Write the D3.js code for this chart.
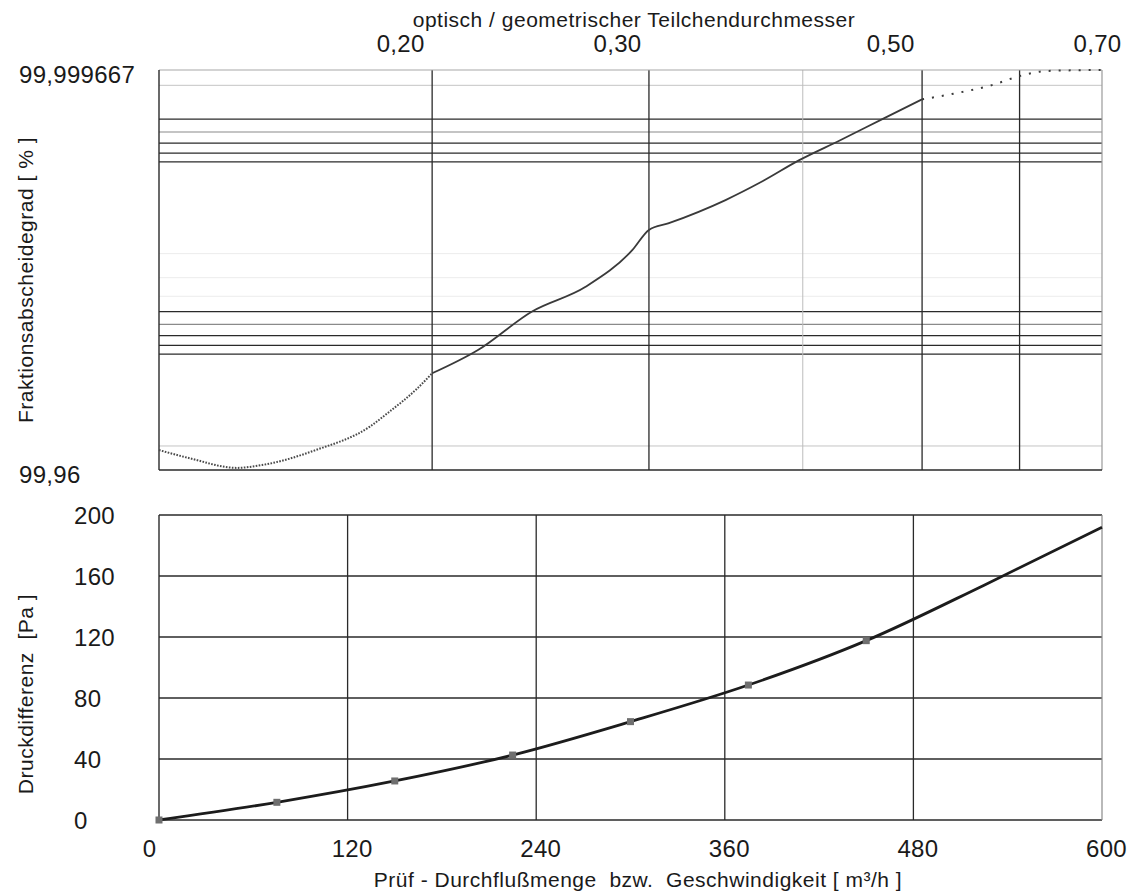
<!DOCTYPE html>
<html><head><meta charset="utf-8">
<script src="https://cdn.jsdelivr.net/npm/d3@7"></script>
<style>
html,body{margin:0;padding:0;background:#fff;}
svg{display:block;}
text{font-family:"Liberation Sans",Arial,Helvetica,sans-serif;fill:#1a1a1a;white-space:pre;}
</style></head>
<body>
<svg id="chart" width="1127" height="893"></svg>
<script>
// ---- data ----
// upper chart: fractional efficiency vs particle diameter (log axes)
const diameter = [0.12, 0.1272, 0.1388, 0.1455, 0.1609, 0.1780, 0.1841, 0.1943, 0.20, 0.2179, 0.2409, 0.2665, 0.2909, 0.30, 0.3110, 0.3462, 0.3703, 0.3974, 0.4294, 0.4655, 0.50, 0.5325, 0.5697, 0.60, 0.6300, 0.70];
const efficiency = [99.9685, 99.9652, 99.9610, 99.9623, 99.9685, 99.9762, 99.9798, 99.98483, 99.98743, 99.99049, 99.99399, 99.99554, 99.99713, 99.99774, 99.99791, 99.99842, 99.99873, 99.99902, 99.99923, 99.999406, 99.999527, 99.99956, 99.999601, 99.999642, 99.999663, 99.999667];
const solidRange = [0.20, 0.50];           // measured (solid) part of the curve
const diamTicks = [0.20, 0.30, 0.50, 0.70];
const diamTickLabels = ["0,20", "0,30", "0,50", "0,70"];
const diamGridDark = [0.20, 0.30, 0.50, 0.60];
const diamGridLight = [0.40];
const effDomain = [99.96, 99.999667];
const effTickLabels = ["99,96", "99,999667"];
const effGridDark = [99.99, 99.991, 99.992, 99.994, 99.999, 99.9991, 99.9992, 99.9994];
const effGridMid = [99.993, 99.9993];
const effGridLight = [99.97, 99.9996];
const effGridFaint = [99.995, 99.996, 99.997];

// lower chart: pressure drop vs flow
const flow = [0, 75, 150, 225, 300, 375, 450, 525, 600];
const pressure = [0, 11.6, 25.6, 42.6, 64.5, 88.5, 117.6, 154, 192];
const measuredCount = 7;
const flowTicks = [0, 120, 240, 360, 480, 600];
const pressureTicks = [0, 40, 80, 120, 160, 200];

const topTitle = "optisch / geometrischer Teilchendurchmesser";
const topYTitle = "Fraktionsabscheidegrad [ % ]";
const botYTitle = "Druckdifferenz  [Pa ]";
const botXTitle = "Prüf - Durchflußmenge  bzw.  Geschwindigkeit [ m³/h ]";

// ---- layout ----
const W = 1127;
const L = 159, R = 1102;
const T1 = 70, B1 = 470;
const T2 = 515, B2 = 820;
const dark = "#2a2a2a";
const tickFont = 24, tickLS = 0.3;
const titleFont = 21, titleLS = 0.5;

const svg = d3.select("#chart");
svg.append("rect").attr("width", W).attr("height", 893).attr("fill", "#fff");

// ---- upper chart ----
const xD = d3.scaleLog().domain([0.12, 0.70]).range([L, R]);
const pen = d3.scaleLog().domain([100 - effDomain[0], 100 - effDomain[1]]).range([B1, T1]);
const yE = v => pen(100 - v);

const g1 = svg.append("g");
function hline(g, y, x0, x1, color, w) {
  g.append("line").attr("x1", x0).attr("x2", x1).attr("y1", y).attr("y2", y)
    .attr("stroke", color).attr("stroke-width", w);
}
function vline(g, x, y0, y1, color, w) {
  g.append("line").attr("x1", x).attr("x2", x).attr("y1", y0).attr("y2", y1)
    .attr("stroke", color).attr("stroke-width", w);
}
effGridFaint.forEach(v => hline(g1, yE(v), L, R, "#ececec", 1));
effGridLight.forEach(v => hline(g1, yE(v), L, R, "#c4c4c4", 1));
effGridMid.forEach(v => hline(g1, yE(v), L, R, "#8a8a8a", 1.1));
effGridDark.forEach(v => hline(g1, yE(v), L, R, dark, 1.3));
diamGridLight.forEach(v => vline(g1, xD(v), T1, B1, "#bdbdbd", 1));
diamGridDark.forEach(v => vline(g1, xD(v), T1, B1, dark, 1.3));
// frame
hline(g1, T1, L, R, "#a8a8a8", 1.2);
vline(g1, R, T1, B1, "#9a9a9a", 1.2);
hline(g1, B1, L, R, dark, 1.4);
vline(g1, L, T1, B1, dark, 1.4);

// curve
const pts = diameter.map((d, i) => ({d, e: efficiency[i]}));
const line1 = d3.line().x(p => xD(p.d)).y(p => yE(p.e)).curve(d3.curveMonotoneX);
const leftPts = pts.filter(p => p.d <= solidRange[0]);
const midPts = pts.filter(p => p.d >= solidRange[0] && p.d <= solidRange[1]);
const rightPts = pts.filter(p => p.d >= solidRange[1]);
g1.append("path").attr("d", line1(leftPts)).attr("fill", "none")
  .attr("stroke", "#4a4a4a").attr("stroke-width", 2).attr("stroke-dasharray", "1.6,1.4");
g1.append("path").attr("d", line1(midPts)).attr("fill", "none")
  .attr("stroke", "#3a3a3a").attr("stroke-width", 1.8);
g1.append("path").attr("d", line1(rightPts)).attr("fill", "none")
  .attr("stroke", "#3a3a3a").attr("stroke-width", 2).attr("stroke-dasharray", "2,8");

// top axis labels
const topAxis = d3.axisTop(xD).tickValues(diamTicks).tickSize(0)
  .tickFormat((d, i) => diamTickLabels[i]);
const ta = svg.append("g").attr("transform", `translate(0,${T1})`).call(topAxis);
ta.select(".domain").remove();
ta.selectAll("text")
  .attr("font-size", tickFont).attr("letter-spacing", tickLS).attr("fill", "#1a1a1a")
  .attr("text-anchor", "end")
  .attr("dy", 0)
  .each(function(d, i) {
    const x = xD(d);
    const endX = (i === diamTicks.length - 1) ? W - 6 : x - 8;
    d3.select(this).attr("x", endX - x).attr("y", -18);
  });
svg.append("text").attr("x", 634).attr("y", 27).attr("text-anchor", "middle")
  .attr("font-size", titleFont).attr("letter-spacing", titleLS).text(topTitle);

// left labels upper chart
const leftAxis1 = d3.axisLeft(pen).tickValues(effDomain.map(v => 100 - v)).tickSize(0)
  .tickFormat((d, i) => effTickLabels[i]);
const la1 = svg.append("g").attr("transform", `translate(${L},0)`).call(leftAxis1);
la1.select(".domain").remove();
la1.selectAll("text").attr("font-size", tickFont).attr("letter-spacing", tickLS).attr("fill", "#1a1a1a")
  .attr("text-anchor", "start").attr("x", 19 - L).attr("dy", "0.32em")
  .attr("y", 5);
svg.append("text").attr("transform", `translate(33,${280}) rotate(-90)`)
  .attr("text-anchor", "middle").attr("font-size", titleFont).attr("letter-spacing", titleLS).text(topYTitle);

// ---- lower chart ----
const xF = d3.scaleLinear().domain([0, 600]).range([L, R]);
const yP = d3.scaleLinear().domain([0, 200]).range([B2, T2]);
const g2 = svg.append("g");
pressureTicks.forEach(v => { if (v > 0 && v < 200) hline(g2, yP(v), L, R, dark, 1.3); });
flowTicks.forEach(v => { if (v > 0 && v < 600) vline(g2, xF(v), T2, B2, dark, 1.3); });
hline(g2, T2, L, R, dark, 1.4);
hline(g2, B2, L, R, dark, 1.4);
vline(g2, L, T2, B2, dark, 1.4);
vline(g2, R, T2, B2, "#8a8a8a", 1.2);

const line2 = d3.line().x((d, i) => xF(flow[i])).y((d, i) => yP(pressure[i])).curve(d3.curveMonotoneX);
g2.append("path").attr("d", line2(flow)).attr("fill", "none")
  .attr("stroke", "#1c1c1c").attr("stroke-width", 2.8);
g2.selectAll("rect.mk").data(flow.slice(0, measuredCount)).join("rect")
  .attr("class", "mk")
  .attr("x", (d) => xF(d) - 3.5).attr("y", (d, i) => yP(pressure[i]) - 3.5)
  .attr("width", 7).attr("height", 7).attr("fill", "#6f6f6f");

// bottom axis labels
const bAxis = d3.axisBottom(xF).tickValues(flowTicks).tickSize(0);
const ba = svg.append("g").attr("transform", `translate(0,${B2})`).call(bAxis);
ba.select(".domain").remove();
ba.selectAll("text").attr("font-size", tickFont).attr("letter-spacing", tickLS).attr("fill", "#1a1a1a")
  .attr("y", 37).attr("dy", 0)
  .attr("text-anchor", (d, i) => i === 0 ? "end" : "middle")
  .attr("x", (d, i) => i === 0 ? -3 : 4);
svg.append("text").attr("x", 638).attr("y", 887).attr("text-anchor", "middle")
  .attr("font-size", titleFont).attr("letter-spacing", titleLS).text(botXTitle);

// left labels lower chart
const lAxis2 = d3.axisLeft(yP).tickValues(pressureTicks).tickSize(0);
const la2 = svg.append("g").attr("transform", `translate(${L},0)`).call(lAxis2);
la2.select(".domain").remove();
la2.selectAll("text").attr("font-size", tickFont).attr("letter-spacing", tickLS).attr("fill", "#1a1a1a")
  .attr("text-anchor", "start").attr("x", 74 - L).attr("dy", "0.35em").attr("y", 0);
svg.append("text").attr("transform", `translate(33,${694}) rotate(-90)`)
  .attr("text-anchor", "middle").attr("font-size", titleFont).attr("letter-spacing", titleLS).text(botYTitle);
</script>
</body></html>
